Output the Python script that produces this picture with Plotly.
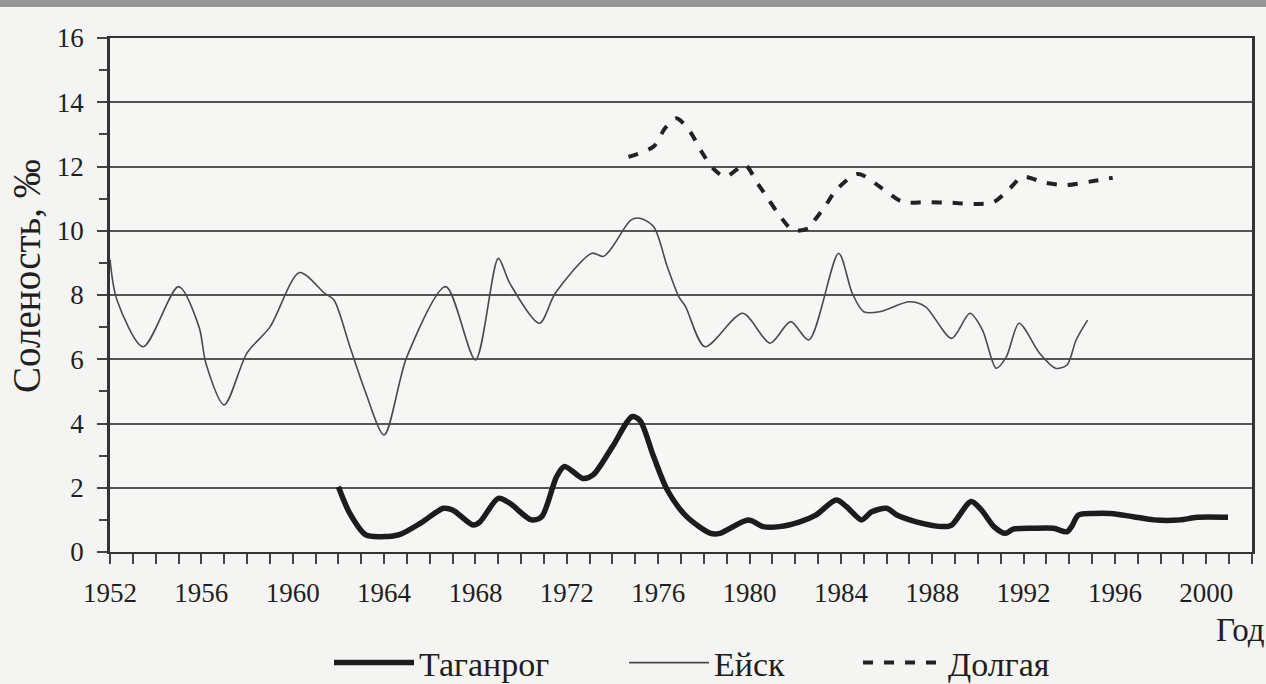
import plotly.graph_objects as go

# ---- data ----
years_yeisk = [1952.0, 1952.3, 1953.45, 1955.0, 1955.9, 1956.2, 1957.0, 1958.0, 1959.0, 1960.3,
               1961.4, 1961.8, 1962.5, 1963.2, 1964.0, 1965.0, 1966.7, 1968.0, 1969.0, 1969.5,
               1970.8, 1971.5, 1973.1, 1973.6, 1974.0, 1974.8, 1975.2, 1975.8, 1976.4, 1976.9,
               1977.2, 1978.05, 1979.7, 1980.9, 1981.8, 1982.6, 1983.9, 1984.5, 1985.0, 1985.7,
               1987.0, 1987.7, 1988.85, 1989.65, 1990.2, 1990.8, 1991.25, 1991.8, 1992.7, 1993.4,
               1993.9, 1994.3, 1994.8]
sal_yeisk = [9.1, 7.85, 6.39, 8.26, 7.0, 5.87, 4.58, 6.2, 7.0, 8.7,
             8.05, 7.85, 6.4, 4.95, 3.64, 6.08, 8.26, 5.98, 9.14, 8.37,
             7.12, 8.06, 9.3, 9.2, 9.5, 10.33, 10.39, 10.13, 8.88, 7.95,
             7.64, 6.39, 7.43, 6.5, 7.17, 6.6, 9.3, 8.05, 7.48, 7.48,
             7.79, 7.64, 6.65, 7.43, 6.91, 5.72, 6.08, 7.12, 6.19, 5.72,
             5.82, 6.6, 7.22]

years_tag = [1962.0, 1962.5, 1963.2, 1964.0, 1964.7, 1965.6, 1966.6, 1967.0, 1967.9, 1968.2,
             1969.0, 1969.5, 1970.45, 1970.9, 1971.55, 1971.9, 1972.7, 1973.15, 1974.0, 1974.85,
             1975.2, 1975.8, 1976.4, 1977.25, 1978.3, 1978.7, 1979.95, 1980.6, 1981.3, 1982.2,
             1982.9, 1983.8, 1984.25, 1984.9, 1985.35, 1986.0, 1986.45, 1987.3, 1988.5, 1988.85,
             1989.7, 1990.15, 1990.7, 1991.2, 1991.55, 1992.4, 1993.3, 1993.9, 1994.1, 1994.4,
             1995.05, 1995.8, 1996.8, 1997.7, 1998.85, 1999.6, 2000.95]
sal_tag = [2.03, 1.2, 0.53, 0.48, 0.55, 0.9, 1.36, 1.31, 0.84, 0.94,
           1.67, 1.52, 1.0, 1.1, 2.34, 2.66, 2.29, 2.4, 3.28, 4.21,
           4.1, 2.97, 1.93, 1.1, 0.58, 0.58, 1.0, 0.79, 0.79, 0.94,
           1.15, 1.62, 1.41, 1.0, 1.25, 1.36, 1.15, 0.94, 0.79, 0.84,
           1.57, 1.31, 0.79, 0.58, 0.71, 0.74, 0.74, 0.63, 0.79, 1.15,
           1.2, 1.2, 1.1, 1.0, 1.0, 1.08, 1.08]

years_dolg = [1974.7, 1975.8, 1976.3, 1976.8, 1977.4, 1977.9, 1978.4, 1978.95, 1979.8, 1980.3,
              1980.8, 1981.25, 1981.9, 1982.6, 1982.85, 1983.3, 1983.8, 1984.75, 1985.8, 1986.7,
              1987.75, 1988.85, 1989.8, 1990.7, 1991.4, 1991.95, 1992.9, 1993.85, 1994.9, 1995.9]
sal_dolg = [12.3, 12.62, 13.19, 13.5, 13.08, 12.46, 11.94, 11.68, 12.05, 11.53,
            11.01, 10.54, 10.02, 10.08, 10.33, 10.75, 11.27, 11.77, 11.32, 10.9,
            10.89, 10.87, 10.83, 10.9, 11.32, 11.68, 11.5, 11.42, 11.53, 11.65]

x_tickvals = [1952, 1956, 1960, 1964, 1968, 1972, 1976, 1980, 1984, 1988, 1992, 1996, 2000]
y_tickvals = [0, 2, 4, 6, 8, 10, 12, 14, 16]

series_names = ["Таганрог", "Ейск", "Долгая"]

FONT = "Liberation Serif"
INK = "#1f1f1f"

fig = go.Figure()
fig.add_trace(go.Scatter(x=years_tag, y=sal_tag, name=series_names[0], mode="lines",
                         legend="legend",
                         line=dict(color="#1c1c1c", width=5.5, shape="spline", smoothing=0.8)))
fig.add_trace(go.Scatter(x=years_yeisk, y=sal_yeisk, name=series_names[1], mode="lines",
                         legend="legend2",
                         line=dict(color="#4a4a4a", width=1.6, shape="spline", smoothing=0.8)))
fig.add_trace(go.Scatter(x=years_dolg, y=sal_dolg, name=series_names[2], mode="lines",
                         legend="legend3",
                         line=dict(color="#222222", width=4, dash="10px,11px",
                                   shape="spline", smoothing=0.8)))

LEG_Y = (552 - 663) / 514


def leg(xpx):
    return dict(orientation="h", x=(xpx - 110) / 1142, xanchor="left", y=LEG_Y,
                yanchor="middle", font=dict(family=FONT, size=34, color=INK), itemwidth=80,
                bgcolor="rgba(0,0,0,0)", itemclick=False, itemdoubleclick=False)


fig.update_layout(
    width=1266, height=684,
    margin=dict(l=110, r=14, t=38, b=132, autoexpand=False),
    paper_bgcolor="#f4f4f2", plot_bgcolor="#f6f6f4",
    font=dict(family=FONT, color=INK, size=27),
    showlegend=True,
    legend=leg(329), legend2=leg(624), legend3=leg(858),
    xaxis=dict(range=[1952, 2002], tickvals=x_tickvals, ticktext=[str(v) for v in x_tickvals],
               ticks="outside", ticklen=10, tickwidth=1.5, tickcolor="#444",
               minor=dict(dtick=1, tick0=1952, ticks="outside", ticklen=10, tickwidth=1.5,
                          tickcolor="#444", showgrid=False),
               ticklabelstandoff=6,
               showgrid=False, showline=True, linecolor="#333", linewidth=2, mirror=True,
               zeroline=False, tickfont=dict(size=27, family=FONT, color=INK)),
    yaxis=dict(range=[0, 16], tickvals=y_tickvals, ticks="outside", ticklen=10, tickwidth=1.5,
               tickcolor="#444",
               minor=dict(dtick=1, tick0=0, ticks="outside", ticklen=8, tickwidth=1.5,
                          tickcolor="#444", showgrid=False),
               showgrid=True, gridcolor="#555555", gridwidth=1.6,
               showline=True, linecolor="#333", linewidth=2.5, mirror=True, zeroline=False,
               ticklabelstandoff=8, tickfont=dict(size=27, family=FONT, color=INK)),
    annotations=[
        dict(text="Соленость, ‰", textangle=-90, xref="paper", yref="paper",
             x=0, xshift=-83, y=0.537, xanchor="center", yanchor="middle",
             showarrow=False, font=dict(family=FONT, size=39, color=INK)),
        dict(text="Год", xref="paper", yref="paper", x=1, xshift=-12, y=(552 - 630) / 514,
             xanchor="center", yanchor="middle", showarrow=False,
             font=dict(family=FONT, size=33, color=INK)),
    ],
    shapes=[
        dict(type="rect", xref="paper", yref="paper", x0=-0.2, x1=1.2,
             y0=1 + (38 - 7) / 514, y1=1 + 38 / 514 + 0.01,
             fillcolor="#959595", line=dict(width=0), layer="below"),
    ],
)

fig.write_html("out.html", config={"displayModeBar": False},
               post_script="document.body.style.margin='0';document.body.style.overflow='hidden';")
